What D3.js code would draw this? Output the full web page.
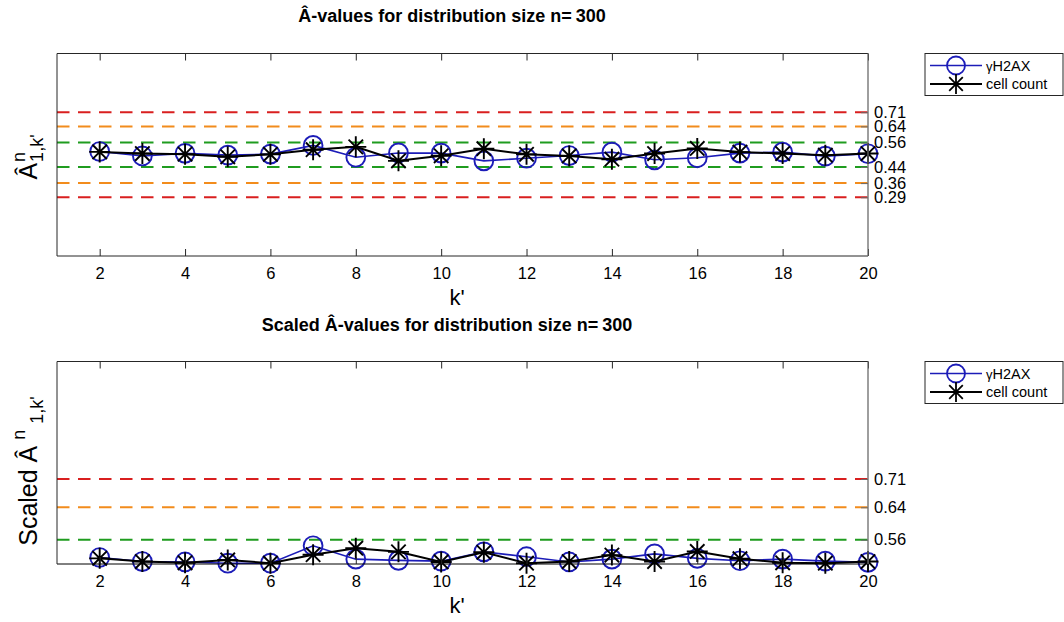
<!DOCTYPE html>
<html><head><meta charset="utf-8">
<script src="https://cdn.jsdelivr.net/npm/d3@7"></script>
<style>
body{margin:0;background:#fff}
text{font-family:"Liberation Sans",Arial,Helvetica,sans-serif;fill:#000}
</style>
</head><body>
<svg id="chart" width="1064" height="622"></svg>
<script>
// ---- data ----
const kValues = [2,3,4,5,6,7,8,9,10,11,12,13,14,15,16,17,18,19,20];
const gammaH2AX = [0.516,0.494,0.507,0.498,0.503,0.546,0.488,0.509,0.508,0.470,0.483,0.496,0.513,0.475,0.485,0.508,0.513,0.493,0.505];
const cellCount = [0.514,0.506,0.503,0.490,0.502,0.525,0.539,0.470,0.495,0.530,0.502,0.494,0.478,0.506,0.531,0.513,0.506,0.498,0.506];
const gammaH2AXScaled = [0.516,0.506,0.505,0.502,0.502,0.545,0.512,0.509,0.507,0.530,0.518,0.505,0.512,0.525,0.514,0.508,0.512,0.507,0.504];
const cellCountScaled = [0.514,0.506,0.503,0.510,0.502,0.523,0.539,0.530,0.505,0.529,0.502,0.506,0.522,0.506,0.531,0.513,0.503,0.502,0.506];
const xTickValues = [2,4,6,8,10,12,14,16,18,20];
const thresholdsTop = [0.29,0.36,0.44,0.56,0.64,0.71];
const thresholdsBottom = [0.56,0.64,0.71];
const thresholdColor = {0.29:"#d91f1f",0.71:"#d91f1f",0.36:"#f28c1c",0.64:"#f28c1c",0.44:"#1f9c1f",0.56:"#1f9c1f"};
const seriesNames = ["γH2AX","cell count"];

const svg = d3.select("#chart");
const blue = "#1c1cb8";
const x = d3.scaleLinear().domain([1,20]).range([57,868]);

function starPath(r, d){
  return `M0,${-r}L0,${r}M${-r},0L${r},0M${-d},${-d}L${d},${d}M${-d},${d}L${d},${-d}`;
}

function panel(opt){
  const g = svg.append("g");
  const y = d3.scaleLinear().domain(opt.yDomain).range([opt.bottom, opt.top]);
  // threshold lines
  g.selectAll("line.th").data(opt.thresholds).join("line")
    .attr("x1", x(1)).attr("x2", x(20))
    .attr("y1", d=>y(d)).attr("y2", d=>y(d))
    .attr("stroke", d=>thresholdColor[d]).attr("stroke-width",2)
    .attr("stroke-dasharray","12.5,8.5");
  // blue series
  const line = d3.line().x((d,i)=>x(kValues[i])).y(d=>y(d));
  g.append("path").datum(opt.blueData).attr("d", line)
    .attr("fill","none").attr("stroke",blue).attr("stroke-width",1.6);
  g.selectAll("circle.b").data(opt.blueData).join("circle")
    .attr("cx",(d,i)=>x(kValues[i])).attr("cy",d=>y(d)).attr("r",9.4)
    .attr("fill","none").attr("stroke",blue).attr("stroke-width",1.9);
  // black series
  g.append("path").datum(opt.blackData).attr("d", line)
    .attr("fill","none").attr("stroke","#000").attr("stroke-width",2);
  g.selectAll("path.s").data(opt.blackData).join("path")
    .attr("transform",(d,i)=>`translate(${x(kValues[i])},${y(d)})`)
    .attr("d", starPath(10.5,7.2)).attr("fill","none")
    .attr("stroke","#000").attr("stroke-width",1.9);
  // frame
  g.append("line").attr("x1",x(1)).attr("x2",x(20)).attr("y1",opt.top).attr("y2",opt.top).attr("stroke","#262626");
  g.append("line").attr("x1",x(1)).attr("x2",x(20)).attr("y1",opt.bottom).attr("y2",opt.bottom).attr("stroke",opt.bottomColor);
  g.append("line").attr("x1",x(1)).attr("x2",x(1)).attr("y1",opt.top).attr("y2",opt.bottom).attr("stroke","#262626");
  // x axes
  const xb = g.append("g").attr("transform",`translate(0,${opt.bottom})`)
    .call(d3.axisBottom(x).tickValues(xTickValues).tickSize(-7).tickPadding(11));
  xb.select(".domain").remove();
  xb.selectAll("line").attr("stroke","#262626");
  xb.selectAll("text").attr("font-size","16.5px").attr("fill","#262626").style("font-family",'"Liberation Sans",Arial,sans-serif');
  const xt = g.append("g").attr("transform",`translate(0,${opt.top})`)
    .call(d3.axisTop(x).tickValues(xTickValues).tickSize(-7).tickFormat(""));
  xt.select(".domain").remove();
  xt.selectAll("line").attr("stroke","#262626");
  // right y axis
  const yr = g.append("g").attr("transform",`translate(${x(20)},0)`)
    .call(d3.axisRight(y).tickValues(opt.thresholds).tickSize(-7).tickPadding(6).tickFormat(d3.format(".2f")));
  yr.select(".domain").remove();
  yr.selectAll("line").attr("stroke","#6a6a6a");
  yr.selectAll("text").attr("font-size","16.5px").attr("fill","#000").style("font-family",'"Liberation Sans",Arial,sans-serif');
  g.append("line").attr("x1",x(20)).attr("x2",x(20)).attr("y1",opt.top).attr("y2",opt.bottom)
    .attr("stroke","#6a6a6a").attr("stroke-width",1.3);
  // title
  const t = g.append("text").attr("x",opt.titleX).attr("y",opt.titleY)
    .attr("text-anchor","middle").attr("font-size","18px").attr("font-weight","bold");
  t.append("tspan").text(opt.titleText);
  t.append("tspan").attr("dx",4).text("300");
  // x label
  g.append("text").attr("x",457).attr("y",opt.bottom+49).attr("text-anchor","middle")
    .attr("font-size","22px").attr("fill","#262626").text("k'");
  // y label
  const yl = g.append("g");
  const main = yl.append("text").attr("x",0).attr("y",0).attr("font-size","25px").attr("fill","#262626").text(opt.ylabelMain);
  const pos = main.node().getComputedTextLength() + opt.supGap;
  const sup = yl.append("text").attr("x",pos).attr("y",-12).attr("font-size","18px").attr("fill","#262626").text("n");
  const subX = opt.stacked ? pos : pos + sup.node().getComputedTextLength() + opt.subGap;
  const sub = yl.append("text").attr("x",subX).attr("y",6).attr("font-size","18px").attr("fill","#262626").text("1,k'");
  const total = subX + sub.node().getComputedTextLength();
  yl.attr("transform",`translate(${opt.ylabelX},${opt.ylabelCenter}) rotate(-90) translate(${-total/2},0)`);
  // legend
  const lg = g.append("g").attr("transform",`translate(925,${opt.top})`);
  lg.append("rect").attr("x",0).attr("y",0).attr("width",138).attr("height",42)
    .attr("fill","#fff").attr("stroke","#262626").attr("stroke-width",1);
  // row 1
  lg.append("line").attr("x1",5).attr("x2",57).attr("y1",12).attr("y2",12).attr("stroke",blue).attr("stroke-width",1.6);
  lg.append("circle").attr("cx",31).attr("cy",12).attr("r",9).attr("fill","none").attr("stroke",blue).attr("stroke-width",1.8);
  const l1 = lg.append("text").attr("x",61).attr("y",17).attr("font-size","14.5px").attr("fill","#262626");
  l1.append("tspan").attr("font-size","13px").text(seriesNames[0].slice(0,1));
  l1.append("tspan").text(seriesNames[0].slice(1));
  // row 2
  lg.append("line").attr("x1",5).attr("x2",57).attr("y1",30.5).attr("y2",30.5).attr("stroke","#000").attr("stroke-width",2);
  lg.append("path").attr("transform","translate(31,30.5)").attr("d",starPath(10,6.8))
    .attr("fill","none").attr("stroke","#000").attr("stroke-width",1.8);
  lg.append("text").attr("x",61).attr("y",35.5).attr("font-size","14.5px").attr("fill","#262626").text(seriesNames[1]);
}

panel({top:53.5, bottom:256, yDomain:[0,1], thresholds:thresholdsTop,
  blueData:gammaH2AX, blackData:cellCount, bottomColor:"#262626",
  titleText:"Â-values for distribution size n=", titleX:452, titleY:22,
  ylabelMain:"Â", supGap:1, subGap:0, stacked:true, ylabelX:37, ylabelCenter:157});
panel({top:361.5, bottom:564, yDomain:[0.5,1], thresholds:thresholdsBottom,
  blueData:gammaH2AXScaled, blackData:cellCountScaled, bottomColor:"#000",
  titleText:"Scaled Â-values for distribution size n=", titleX:447, titleY:331,
  ylabelMain:"Scaled Â", supGap:6, subGap:6, stacked:false, ylabelX:37, ylabelCenter:471});
</script>
</body></html>
